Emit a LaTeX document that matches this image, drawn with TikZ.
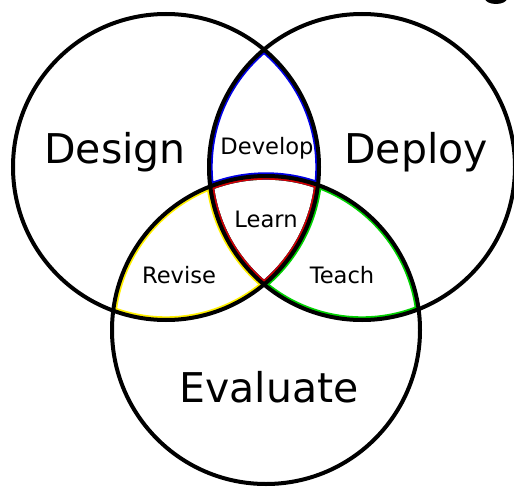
\documentclass[tikz,border=0pt]{standalone}
\usepackage{fontspec}
\setmainfont{DejaVu Sans}
\definecolor{vblue}{RGB}{0,0,230}
\definecolor{vred}{RGB}{210,0,0}
\definecolor{vyellow}{RGB}{255,240,0}
\definecolor{vgreen}{RGB}{0,210,0}
\begin{document}
\begin{tikzpicture}[x=1pt,y=-1pt,
  colring/.style={line width=7.4pt},
  ring/.style={draw=black,line width=4pt},
  big/.style={font=\fontsize{41}{41}\selectfont, anchor=base},
  small/.style={font=\fontsize{22.6}{23}\selectfont, anchor=base}]
\useasboundingbox[fill=white] (0,0) rectangle (514,487);
\def\cDesign{(166,167) circle[radius=153]}
\def\cDeploy{(362,167) circle[radius=153]}
\def\cEval{(266,330) circle[radius=154]}
% coloured inner borders
\begin{scope}
  \clip \cDesign; \clip \cEval;
  \draw[colring,vyellow] \cDesign \cEval \cDeploy;
\end{scope}
\begin{scope}
  \clip \cDeploy; \clip \cEval;
  \draw[colring,vgreen] \cDeploy \cEval \cDesign;
\end{scope}
\begin{scope}
  \clip \cDesign; \clip \cDeploy;
  \draw[colring,vblue] \cDesign \cDeploy \cEval;
\end{scope}
\begin{scope}
  \clip \cDesign; \clip \cDeploy; \clip \cEval;
  \draw[colring,vred] \cDesign \cDeploy \cEval;
\end{scope}
% black circles
\draw[ring] \cDesign;
\draw[ring] \cDeploy;
\draw[ring] \cEval;
% cropped mark at top right
\begin{scope}
  \clip (0,0) rectangle (514,487);
  \fill[black] (496,-1.5) ellipse[x radius=11, y radius=5.5];
\end{scope}
% labels
\node[big]   (design)   at (115,163) {Design};
\node[big]   (deploy)   at (416,163) {Deploy};
\node[big]   (evaluate) at (269,402) {Evaluate};
\node[small] (develop)  at (267,154) {Develop};
\node[small] (learn)    at (266,227) {Learn};
\node[small] (revise)   at (179,283) {Revise};
\node[small] (teach)    at (342,283) {Teach};
\end{tikzpicture}
\end{document}
